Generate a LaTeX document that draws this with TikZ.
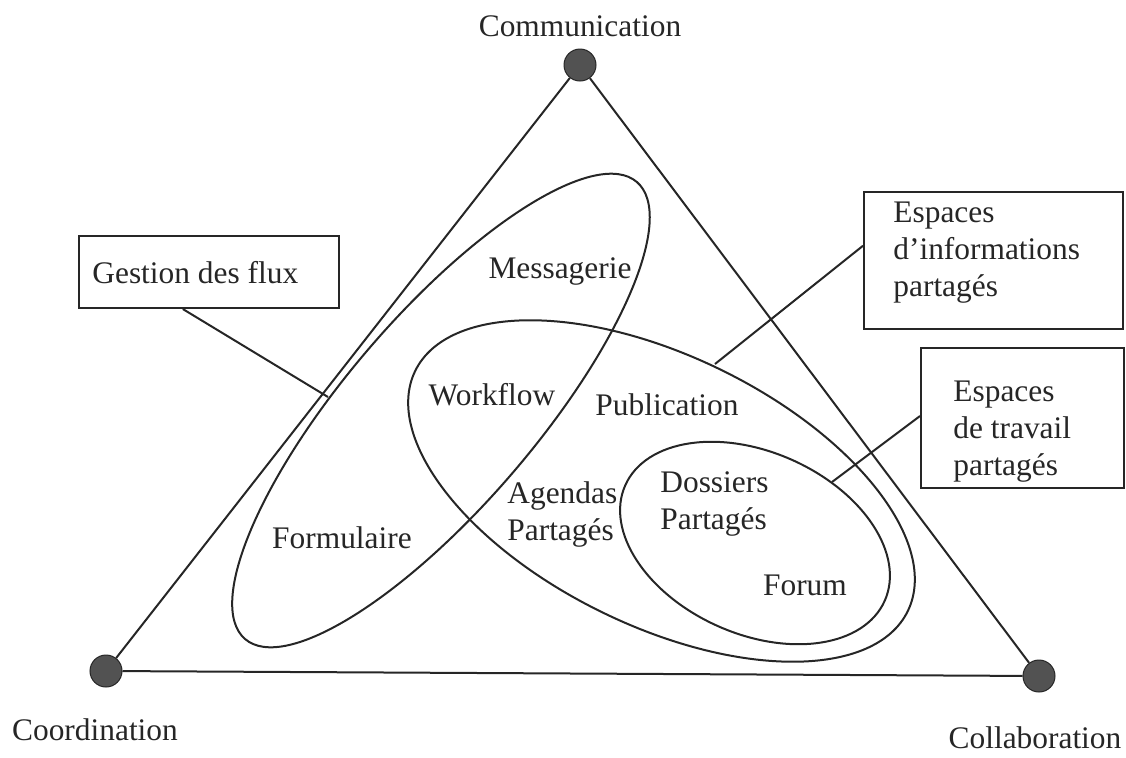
\documentclass[tikz,border=0pt]{standalone}
\usepackage{fontspec}
\setmainfont{Liberation Serif}
\usetikzlibrary{calc}
\begin{document}
\begin{tikzpicture}[x=0.5pt,y=-0.5pt,
  every node/.style={font=\fontsize{15.7}{18.5}\selectfont, text=black!85},
  line/.style={line width=1pt, draw=black!85},
  vertex/.style={circle, draw=black!85, line width=0.5pt, fill=black!68, minimum size=16pt, inner sep=0pt},
  lbl/.style={inner sep=0pt},
  box/.style={draw=black!85, line width=1pt, inner sep=0pt, anchor=north west},
]
\useasboundingbox (0,0) rectangle (1126,757);

% vertices
\node[vertex] (comm) at (580,65) {};
\node[vertex] (coord) at (106,671) {};
\node[vertex] (coll) at (1039,676) {};
\node[lbl, anchor=base] (commtxt) at (580,36) {Communication};
\node[lbl, anchor=base] (coordtxt) at (95,740) {Coordination};
\node[lbl, anchor=base] (colltxt) at (1035,748) {Collaboration};

% triangle
\draw[line] (comm) -- (coord);
\draw[line] (coord) -- (coll);
\draw[line] (coll) -- (comm);

% ellipses
\coordinate (e1) at (441,410.5);
\draw[line, rotate around={49.4:(e1)}] (e1) ellipse [x radius=150.5pt, y radius=47.5pt];
\coordinate (e2) at (661.5,491);
\draw[line, rotate around={-26:(e2)}] (e2) ellipse [x radius=137pt, y radius=67.5pt];
\coordinate (e3) at (755,543);
\draw[line, rotate around={-24:(e3)}] (e3) ellipse [x radius=71pt, y radius=45.5pt];

% labels inside
\node[lbl, anchor=base] (mess) at (560,278) {Messagerie};
\node[lbl, anchor=base] (work) at (492,405) {Workflow};
\node[lbl, anchor=base] (pub) at (667,415) {Publication};
\node[lbl, anchor=base] (form) at (342,548) {Formulaire};
\node[lbl, anchor=north west, align=left] (agenda) at (507,481) {Agendas\\Partagés};
\node[lbl, anchor=north west, align=left] (doss) at (660,471) {Dossiers\\Partagés};
\node[lbl, anchor=base] (forum) at (805,595) {Forum};

% boxes
\node[box, minimum width=130pt, minimum height=36pt] (gestion) at (78,235) {};
\node[lbl, anchor=base west] (gestiontxt) at (92,283) {Gestion des flux};
\node[box, minimum width=129.5pt, minimum height=68.5pt] (info) at (863,191) {};
\node[lbl, anchor=north west, align=left] (infotxt) at (893,202) {Espaces\\d’informations\\partagés};
\node[box, minimum width=101.5pt, minimum height=70pt] (travail) at (920,347) {};
\node[lbl, anchor=north west, align=left] (travailtxt) at (953,381) {Espaces\\de travail\\partagés};

% leaders
\coordinate (gend) at (328,397);
\coordinate (iend) at (715,364);
\coordinate (tend) at (832,482);
\draw[line] ($(gestion.south west)!0.4!(gestion.south east)$) -- (gend);
\draw[line] ($(info.north west)!0.394!(info.south west)$) -- (iend);
\draw[line] ($(travail.north west)!0.486!(travail.south west)$) -- (tend);
\end{tikzpicture}
\end{document}
